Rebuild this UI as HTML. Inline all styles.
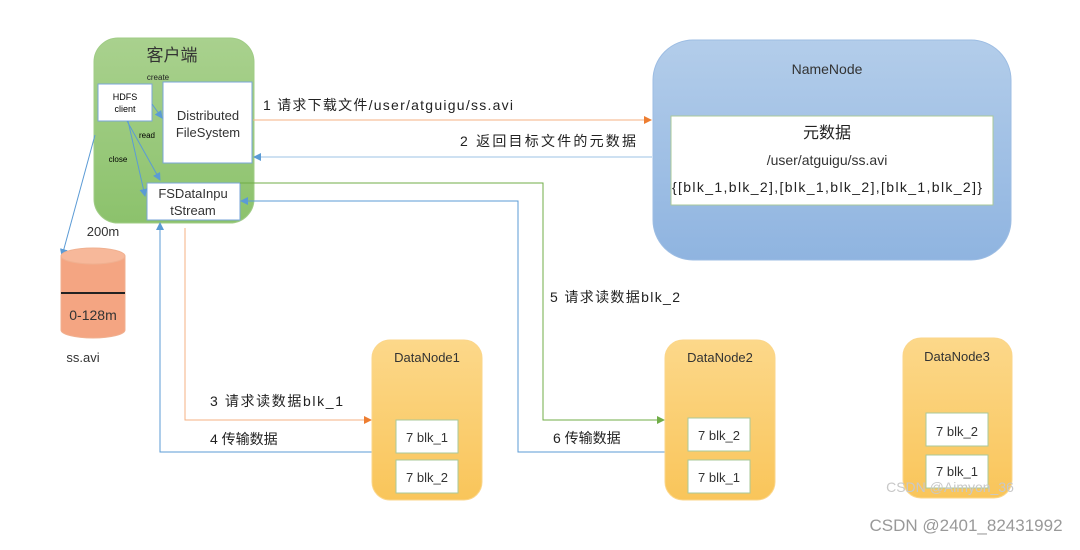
<!DOCTYPE html>
<html><head><meta charset="utf-8"><style>
body{margin:0;background:#fff}
svg text{font-family:"Liberation Sans","Noto Sans CJK SC",sans-serif}
</style></head><body>
<svg width="1080" height="545" viewBox="0 0 1080 545" xmlns="http://www.w3.org/2000/svg">
<defs>
<linearGradient id="gb" x1="0" y1="0" x2="0" y2="1"><stop offset="0" stop-color="#b3cdea"/><stop offset="1" stop-color="#8fb4e0"/></linearGradient>
<linearGradient id="gy" x1="0" y1="0" x2="0" y2="1"><stop offset="0" stop-color="#fcd88a"/><stop offset="1" stop-color="#f9c55a"/></linearGradient>
<linearGradient id="gg" x1="0" y1="0" x2="0" y2="1"><stop offset="0" stop-color="#a9d18e"/><stop offset="1" stop-color="#8cc26c"/></linearGradient>
<marker id="ao" markerWidth="8" markerHeight="8" refX="7" refY="4" orient="auto" markerUnits="userSpaceOnUse"><path d="M0,0 L8,4 L0,8z" fill="#ed7d31"/></marker>
<marker id="ab" markerWidth="8" markerHeight="8" refX="7" refY="4" orient="auto" markerUnits="userSpaceOnUse"><path d="M0,0 L8,4 L0,8z" fill="#5b9bd5"/></marker>
<marker id="ag" markerWidth="8" markerHeight="8" refX="7" refY="4" orient="auto" markerUnits="userSpaceOnUse"><path d="M0,0 L8,4 L0,8z" fill="#70ad47"/></marker>
</defs>

<rect x="94" y="38" width="160" height="185" rx="24" fill="url(#gg)" stroke="#a0cc86"/>
<text x="172" y="61" font-size="17" text-anchor="middle" fill="#333">客户端</text>
<text x="158" y="80" font-size="8" text-anchor="middle" fill="#222">create</text>
<rect x="98" y="84" width="54" height="37" fill="#fff" stroke="#7aa6d8"/>
<text x="125" y="100" font-size="9" text-anchor="middle">HDFS</text>
<text x="125" y="112" font-size="9" text-anchor="middle">client</text>
<rect x="163" y="82" width="89" height="81" fill="#fff" stroke="#7aa6d8"/>
<text x="208" y="120" font-size="13" text-anchor="middle" fill="#333">Distributed</text>
<text x="208" y="137" font-size="13" text-anchor="middle" fill="#333">FileSystem</text>
<rect x="147" y="183" width="93" height="37" fill="#fff" stroke="#7aa6d8"/>
<text x="193" y="198" font-size="13" text-anchor="middle" fill="#333">FSDataInpu</text>
<text x="193" y="215" font-size="13" text-anchor="middle" fill="#333">tStream</text>
<text x="147" y="138" font-size="8" text-anchor="middle">read</text>
<text x="118" y="162" font-size="8" text-anchor="middle">close</text>
<path d="M152,104 L162,118" stroke="#5b9bd5" marker-end="url(#ab)"/>
<path d="M127,121 L160,180" stroke="#5b9bd5" marker-end="url(#ab)"/>
<path d="M128,121 L145,196" stroke="#5b9bd5" marker-end="url(#ab)"/>
<path d="M95,135 L62,256" stroke="#5b9bd5" marker-end="url(#ab)"/>

<text x="103" y="236" font-size="13" text-anchor="middle" fill="#333">200m</text>
<path d="M61,256 L61,330 A32,8 0 0 0 125,330 L125,256" fill="#f4a582" stroke="#f0b090"/>
<ellipse cx="93" cy="256" rx="32" ry="8" fill="#f7b89a" stroke="#f0b090"/>
<line x1="61" y1="293" x2="125" y2="293" stroke="#222" stroke-width="2"/>
<text x="93" y="320" font-size="14" text-anchor="middle" fill="#333">0-128m</text>
<text x="83" y="362" font-size="13" text-anchor="middle" fill="#333">ss.avi</text>

<rect x="653" y="40" width="358" height="220" rx="40" fill="url(#gb)" stroke="#9dbde3"/>
<text x="827" y="74" font-size="14" text-anchor="middle" fill="#333">NameNode</text>
<rect x="671" y="116" width="322" height="89" fill="#fff" stroke="#a9c89a"/>
<text x="827" y="138" font-size="16" text-anchor="middle" fill="#222">元数据</text>
<text x="827" y="165" font-size="14" text-anchor="middle" fill="#333">/user/atguigu/ss.avi</text>
<text x="827" y="192" font-size="14" text-anchor="middle" fill="#222" textLength="310">{[blk_1,blk_2],[blk_1,blk_2],[blk_1,blk_2]}</text>

<path d="M253,120 L651,120" stroke="#f4b183" fill="none" marker-end="url(#ao)"/>
<text x="263" y="110" font-size="14" fill="#222" textLength="250">1 请求下载文件/user/atguigu/ss.avi</text>
<path d="M652,157 L254,157" stroke="#9dc3e6" fill="none" marker-end="url(#ab)"/>
<text x="460" y="146" font-size="14" fill="#222" textLength="176">2 返回目标文件的元数据</text>

<path d="M240,183 L543,183 L543,420 L664,420" stroke="#70ad47" fill="none" marker-end="url(#ag)"/>
<text x="550" y="302" font-size="14" fill="#222" textLength="130">5 请求读数据blk_2</text>
<path d="M665,452 L518,452 L518,201 L241,201" stroke="#5b9bd5" fill="none" marker-end="url(#ab)"/>
<text x="553" y="443" font-size="14" fill="#222">6 传输数据</text>
<path d="M185,228 L185,420 L371,420" stroke="#f4b183" fill="none" marker-end="url(#ao)"/>
<text x="210" y="406" font-size="14" fill="#222" textLength="133">3 请求读数据blk_1</text>
<path d="M372,452 L160,452 L160,223" stroke="#5b9bd5" fill="none" marker-end="url(#ab)"/>
<text x="210" y="444" font-size="14" fill="#222">4 传输数据</text>

<g font-size="13" fill="#333">
<rect x="372" y="340" width="110" height="160" rx="18" fill="url(#gy)" stroke="#fbd68a"/>
<text x="427" y="362" text-anchor="middle">DataNode1</text>
<rect x="396" y="420" width="62" height="33" fill="#fff" stroke="#a9c89a"/>
<text x="427" y="442" text-anchor="middle">7 blk_1</text>
<rect x="396" y="460" width="62" height="33" fill="#fff" stroke="#a9c89a"/>
<text x="427" y="482" text-anchor="middle">7 blk_2</text>

<rect x="665" y="340" width="110" height="160" rx="18" fill="url(#gy)" stroke="#fbd68a"/>
<text x="720" y="362" text-anchor="middle">DataNode2</text>
<rect x="688" y="418" width="62" height="33" fill="#fff" stroke="#a9c89a"/>
<text x="719" y="440" text-anchor="middle">7 blk_2</text>
<rect x="688" y="460" width="62" height="33" fill="#fff" stroke="#a9c89a"/>
<text x="719" y="482" text-anchor="middle">7 blk_1</text>

<rect x="903" y="338" width="109" height="160" rx="18" fill="url(#gy)" stroke="#fbd68a"/>
<text x="957" y="361" text-anchor="middle">DataNode3</text>
<rect x="926" y="413" width="62" height="33" fill="#fff" stroke="#a9c89a"/>
<text x="957" y="436" text-anchor="middle">7 blk_2</text>
<rect x="926" y="455" width="62" height="33" fill="#fff" stroke="#a9c89a"/>
<text x="957" y="476" text-anchor="middle">7 blk_1</text>
</g>
<text x="950" y="492" font-size="14" text-anchor="middle" fill="#c8c8c8">CSDN @Aimyon_36</text>
<text x="966" y="531" font-size="17" text-anchor="middle" fill="#999">CSDN @2401_82431992</text>
</svg>
</body></html>
